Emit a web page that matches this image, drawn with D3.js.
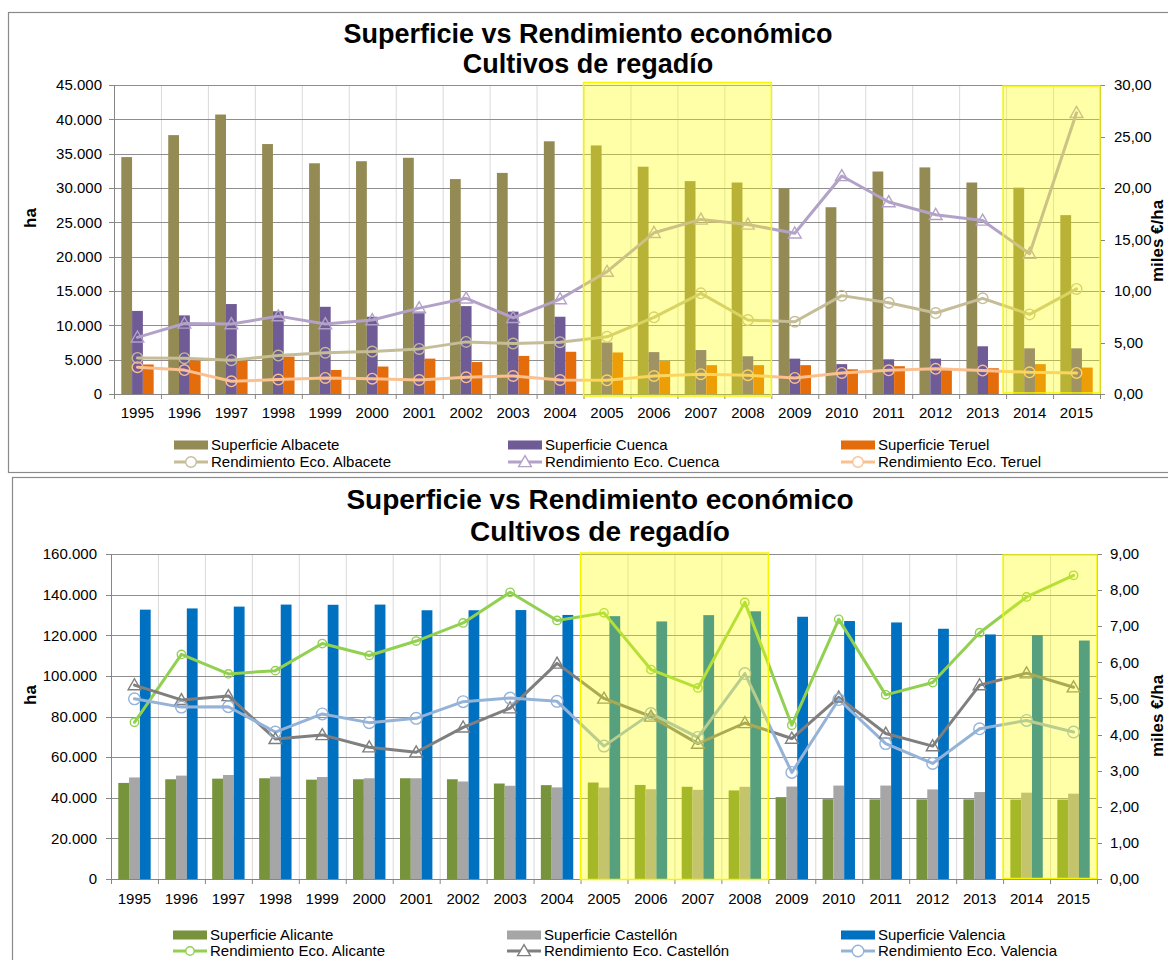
<!DOCTYPE html>
<html><head><meta charset="utf-8">
<script src="https://cdn.jsdelivr.net/npm/d3@7"></script>
<style>
body{margin:0;background:#fff;}
svg{display:block;font-family:"Liberation Sans",Arial,sans-serif;}
</style>
</head><body>
<svg id="c" width="1168" height="960"></svg>
<script>
// ---------- DATA ----------
const years = ["1995","1996","1997","1998","1999","2000","2001","2002","2003","2004","2005","2006","2007","2008","2009","2010","2011","2012","2013","2014","2015"];

// Top chart (Albacete, Cuenca, Teruel)
const supAlbacete = [34500,37700,40700,36400,33600,33900,34400,31300,32200,36800,36200,33100,31000,30800,29950,27200,32400,33000,30800,30050,26050];
const supCuenca   = [12100,11450,13100,12050,12700,11250,12000,12800,12000,11250,7500,6100,6400,5500,5150,4350,5050,5150,6950,6650,6650];
const supTeruel   = [4300,4900,4900,5450,3500,4000,5150,4650,5550,6150,6050,4800,4200,4200,4200,3600,4050,3600,3750,4350,3850];
const rendAlbacete = [3.5,3.48,3.28,3.73,4.0,4.12,4.38,5.06,4.9,5.03,5.55,7.44,9.77,7.18,7.01,9.55,8.86,7.86,9.29,7.73,10.2];
const rendCuenca   = [5.5,6.85,6.79,7.56,6.79,7.18,8.34,9.29,7.4,9.22,11.88,15.65,16.95,16.46,15.6,21.17,18.64,17.4,16.85,13.62,27.3];
const rendTeruel   = [2.6,2.32,1.23,1.4,1.56,1.49,1.36,1.62,1.75,1.36,1.33,1.75,1.92,1.82,1.56,2.05,2.3,2.44,2.27,2.1,2.05];
const topLeftTicks  = [0,5000,10000,15000,20000,25000,30000,35000,40000,45000];
const topRightTicks = [0,5,10,15,20,25,30];

// Bottom chart (Alicante, Castellón, Valencia)
const supAlicante  = [47300,49100,49400,49600,48900,49100,49600,49100,47000,46200,47500,46300,45400,43600,40300,39300,39200,39200,39200,39100,39100];
const supCastellon = [50000,50900,51200,50400,50200,49600,49600,48000,45900,45100,45000,44200,43900,45400,45500,46000,46000,44100,42800,42500,42000];
const supValencia  = [132600,133200,134100,135100,135000,135100,132300,132300,132400,130000,129400,126800,129900,131800,129100,127000,126300,123200,120400,120100,117400];
const rendAlicante  = [4.34,6.22,5.68,5.77,6.52,6.19,6.59,7.09,7.94,7.16,7.37,5.8,5.29,7.66,4.26,7.19,5.1,5.44,6.82,7.81,8.41];
const rendCastellon = [5.37,4.96,5.07,3.88,3.99,3.65,3.51,4.2,4.73,5.97,5.0,4.5,3.75,4.32,3.89,5.03,4.03,3.68,5.37,5.7,5.31];
const rendValencia  = [4.99,4.76,4.77,4.07,4.57,4.33,4.45,4.91,5.01,4.92,3.68,4.58,3.92,5.69,2.95,4.97,3.75,3.2,4.16,4.39,4.07];
const bottomLeftTicks  = [0,20000,40000,60000,80000,100000,120000,140000,160000];
const bottomRightTicks = [0,1,2,3,4,5,6,7,8,9];

const highlightRanges = [["2005","2008"],["2014","2015"]];
const titleLines = ["Superficie vs Rendimiento económico","Cultivos de regadío"];
const yTitle = "ha";
const y2Title = "miles €/ha";

// ---------- DRAW ----------
const svg = d3.select("#c");
const fmtLeft = v => v === 0 ? "0" : d3.format(",")(v).replace(/,/g, ".");
const fmtRight = v => d3.format(".2f")(v).replace(".", ",");

function drawChart(cfg){
  const g = svg.append("g");
  // outer box
  g.append("rect").attr("x", cfg.box[0]).attr("y", cfg.box[1]).attr("width", cfg.box[2]).attr("height", cfg.box[3])
    .attr("fill", "#fff").attr("stroke", "#8a8a8a").attr("stroke-width", 1.2);

  const x = d3.scaleBand().domain(years).range([cfg.left, cfg.right]).padding(0);
  const bw = x.bandwidth();
  const x1 = d3.scaleBand().domain(d3.range(cfg.bars.length)).range([0.155*bw, 0.845*bw]).padding(0);
  const y = d3.scaleLinear().domain([0, cfg.yMax]).range([cfg.bottom, cfg.top]);
  const y2 = d3.scaleLinear().domain([0, cfg.y2Max]).range([cfg.bottom, cfg.top]);

  // vertical gridlines
  g.append("g").selectAll("line").data(years.slice(1)).join("line")
    .attr("x1", d => x(d)+0.5).attr("x2", d => x(d)+0.5)
    .attr("y1", cfg.top).attr("y2", cfg.bottom)
    .attr("stroke", "#d9d9d9").attr("stroke-width", 1);
  // horizontal gridlines
  g.append("g").selectAll("line").data(cfg.leftTicks).join("line")
    .attr("x1", cfg.left).attr("x2", cfg.right)
    .attr("y1", d => Math.round(y(d))+0.5).attr("y2", d => Math.round(y(d))+0.5)
    .attr("stroke", "#8e8e8e").attr("stroke-width", 1);

  // bars
  cfg.bars.forEach((s, i) => {
    g.append("g").selectAll("rect").data(s.values).join("rect")
      .attr("x", (d, j) => x(years[j]) + x1(i))
      .attr("width", x1.bandwidth())
      .attr("y", d => y(d))
      .attr("height", d => y(0) - y(d))
      .attr("fill", s.color);
  });

  // lines
  const cx = j => x(years[j]) + bw/2;
  cfg.lines.forEach(s => {
    const line = d3.line().x((d, j) => cx(j)).y(d => y2(d));
    g.append("path").datum(s.values).attr("d", line)
      .attr("fill", "none").attr("stroke", s.color).attr("stroke-width", s.width || 3)
      .attr("stroke-linejoin", "round").attr("stroke-linecap", "round");
  });
  cfg.lines.forEach(s => {
    const mg = g.append("g");
    if (s.marker === "circle") {
      mg.selectAll("circle").data(s.values).join("circle")
        .attr("cx", (d, j) => cx(j)).attr("cy", d => y2(d)).attr("r", s.r || 5.3)
        .attr("fill", "none").attr("stroke", s.mcolor || s.color).attr("stroke-width", 1.4);
    } else {
      mg.selectAll("path").data(s.values).join("path")
        .attr("d", d3.symbol(d3.symbolTriangle, 70))
        .attr("transform", (d, j) => `translate(${cx(j)},${y2(d)+1})`)
        .attr("fill", "none").attr("stroke", s.mcolor || s.color).attr("stroke-width", 1.4);
    }
  });

  // axes lines and ticks
  const axisColor = "#868686";
  const ax = g.append("g").attr("stroke", axisColor).attr("stroke-width", 1);
  ax.append("line").attr("x1", cfg.left+0.5).attr("x2", cfg.left+0.5).attr("y1", cfg.top).attr("y2", cfg.bottom);
  ax.append("line").attr("x1", cfg.right+0.5).attr("x2", cfg.right+0.5).attr("y1", cfg.top).attr("y2", cfg.bottom);
  ax.append("line").attr("x1", cfg.left).attr("x2", cfg.right).attr("y1", cfg.bottom+0.5).attr("y2", cfg.bottom+0.5);
  ax.selectAll(".lt").data(cfg.leftTicks).join("line")
    .attr("x1", cfg.left-5).attr("x2", cfg.left).attr("y1", d => Math.round(y(d))+0.5).attr("y2", d => Math.round(y(d))+0.5);
  ax.selectAll(".rt").data(cfg.rightTicks).join("line").attr("class","rt")
    .attr("x1", cfg.right).attr("x2", cfg.right+5).attr("y1", d => Math.round(y2(d))+0.5).attr("y2", d => Math.round(y2(d))+0.5);
  const bounds = years.map(d => x(d)).concat([cfg.right]);
  ax.selectAll(".bt").data(bounds).join("line").attr("class","bt")
    .attr("x1", d => d+0.5).attr("x2", d => d+0.5).attr("y1", cfg.bottom).attr("y2", cfg.bottom+5);

  // highlight rectangles (overlay)
  highlightRanges.forEach((r, k) => {
    const pad = cfg.hlPad[k];
    const x0 = x(r[0]) + pad[0], xe = x(r[1]) + bw + pad[1];
    g.append("rect").attr("x", x0).attr("y", cfg.top + pad[2])
      .attr("width", xe - x0).attr("height", cfg.bottom - cfg.top - pad[2] + pad[3])
      .attr("fill", "rgba(255,255,0,0.34)").attr("stroke", "#f5f500").attr("stroke-width", 1.5);
  });

  // tick labels
  const tl = g.append("g").attr("font-size", 15).attr("fill", "#000");
  tl.selectAll(".l").data(cfg.leftTicks).join("text")
    .attr("x", cfg.left - cfg.lOff).attr("y", d => y(d)).attr("dy", "0.35em")
    .attr("text-anchor", "end").text(fmtLeft);
  tl.selectAll(".r").data(cfg.rightTicks).join("text").attr("class","r")
    .attr("x", cfg.right + cfg.rOff).attr("y", d => y2(d)).attr("dy", "0.35em")
    .attr("text-anchor", "start").text(fmtRight);
  tl.selectAll(".yr").data(years).join("text").attr("class","yr")
    .attr("x", d => x(d) + bw/2).attr("y", cfg.yearY).attr("dy", "0.35em")
    .attr("text-anchor", "middle").text(d => d);

  // axis titles
  g.append("text").attr("transform", `translate(${cfg.haX},${cfg.haY}) rotate(-90)`)
    .attr("text-anchor", "middle").attr("dy", "0.35em").attr("font-weight", "bold").attr("font-size", 17).text(yTitle);
  g.append("text").attr("transform", `translate(${cfg.milesX},${cfg.milesY}) rotate(-90)`)
    .attr("text-anchor", "middle").attr("dy", "0.35em").attr("font-weight", "bold").attr("font-size", 17).text(y2Title);

  // title
  titleLines.forEach((t, i) => {
    g.append("text").attr("x", cfg.titleX).attr("y", cfg.titleY[i])
      .attr("text-anchor", "middle").attr("font-weight", "bold").attr("font-size", cfg.titleSize).text(t);
  });

  // legend
  const lg = g.append("g").attr("font-size", 15);
  cfg.bars.forEach((s, i) => {
    const lx = cfg.legendX[i], ly = cfg.legendY[0];
    lg.append("rect").attr("x", lx).attr("y", ly - 4.5).attr("width", 34).attr("height", 9).attr("fill", s.color);
    lg.append("text").attr("x", lx + 37).attr("y", ly).attr("dy", "0.35em").text(s.name);
  });
  cfg.lines.forEach((s, i) => {
    const lx = cfg.legendX[i], ly = cfg.legendY[1];
    lg.append("line").attr("x1", lx).attr("x2", lx + 34).attr("y1", ly).attr("y2", ly)
      .attr("stroke", s.color).attr("stroke-width", s.width || 3);
    if (s.marker === "circle") {
      lg.append("circle").attr("cx", lx + 17).attr("cy", ly).attr("r", s.r || 5.3)
        .attr("fill", "#fff").attr("stroke", s.mcolor || s.color).attr("stroke-width", 1.4);
    } else {
      lg.append("path").attr("d", d3.symbol(d3.symbolTriangle, 70)).attr("transform", `translate(${lx+17},${ly+1})`)
        .attr("fill", "#fff").attr("stroke", s.mcolor || s.color).attr("stroke-width", 1.4);
    }
    lg.append("text").attr("x", lx + 37).attr("y", ly).attr("dy", "0.35em").text(s.name);
  });
}

drawChart({
  box: [8.5, 12.5, 1200, 460],
  left: 114, right: 1100, top: 85, bottom: 394,
  yMax: 45000, y2Max: 30, leftTicks: topLeftTicks, rightTicks: topRightTicks,
  lOff: 12, rOff: 14, yearY: 413,
  haX: 30, haY: 218, milesX: 1157, milesY: 241,
  titleX: 588, titleY: [43, 73], titleSize: 27,
  legendX: [174, 508, 841], legendY: [445, 462],
  hlPad: [[0, 0, -2.5, 2], [-3, 0, 1, -1]],
  bars: [
    {name: "Superficie Albacete", values: supAlbacete, color: "#948a54"},
    {name: "Superficie Cuenca", values: supCuenca, color: "#6f5b96"},
    {name: "Superficie Teruel", values: supTeruel, color: "#e46c0a"}
  ],
  lines: [
    {name: "Rendimiento Eco. Albacete", values: rendAlbacete, color: "#c4bd97", marker: "circle"},
    {name: "Rendimiento Eco. Cuenca", values: rendCuenca, color: "#b3a2c7", marker: "triangle"},
    {name: "Rendimiento Eco. Teruel", values: rendTeruel, color: "#fac090", marker: "circle"}
  ]
});

drawChart({
  box: [12.5, 477.5, 1200, 520],
  left: 111, right: 1097, top: 554, bottom: 879,
  yMax: 160000, y2Max: 9, leftTicks: bottomLeftTicks, rightTicks: bottomRightTicks,
  lOff: 14, rOff: 13, yearY: 899,
  haX: 30, haY: 695, milesX: 1157, milesY: 716,
  titleX: 600, titleY: [509, 541], titleSize: 28,
  legendX: [173, 507, 841], legendY: [935, 951],
  hlPad: [[0, 0, -1, 0.5], [0, 0, 1, -0.5]],
  bars: [
    {name: "Superficie Alicante", values: supAlicante, color: "#77933c"},
    {name: "Superficie Castellón", values: supCastellon, color: "#a6a6a6"},
    {name: "Superficie Valencia", values: supValencia, color: "#0070c0"}
  ],
  lines: [
    {name: "Rendimiento Eco. Alicante", values: rendAlicante, color: "#92d050", marker: "circle", r: 4.2},
    {name: "Rendimiento Eco. Castellón", values: rendCastellon, color: "#7f7f7f", marker: "triangle"},
    {name: "Rendimiento Eco. Valencia", values: rendValencia, color: "#95b3d7", marker: "circle", r: 5.8}
  ]
});
</script>
</body></html>
